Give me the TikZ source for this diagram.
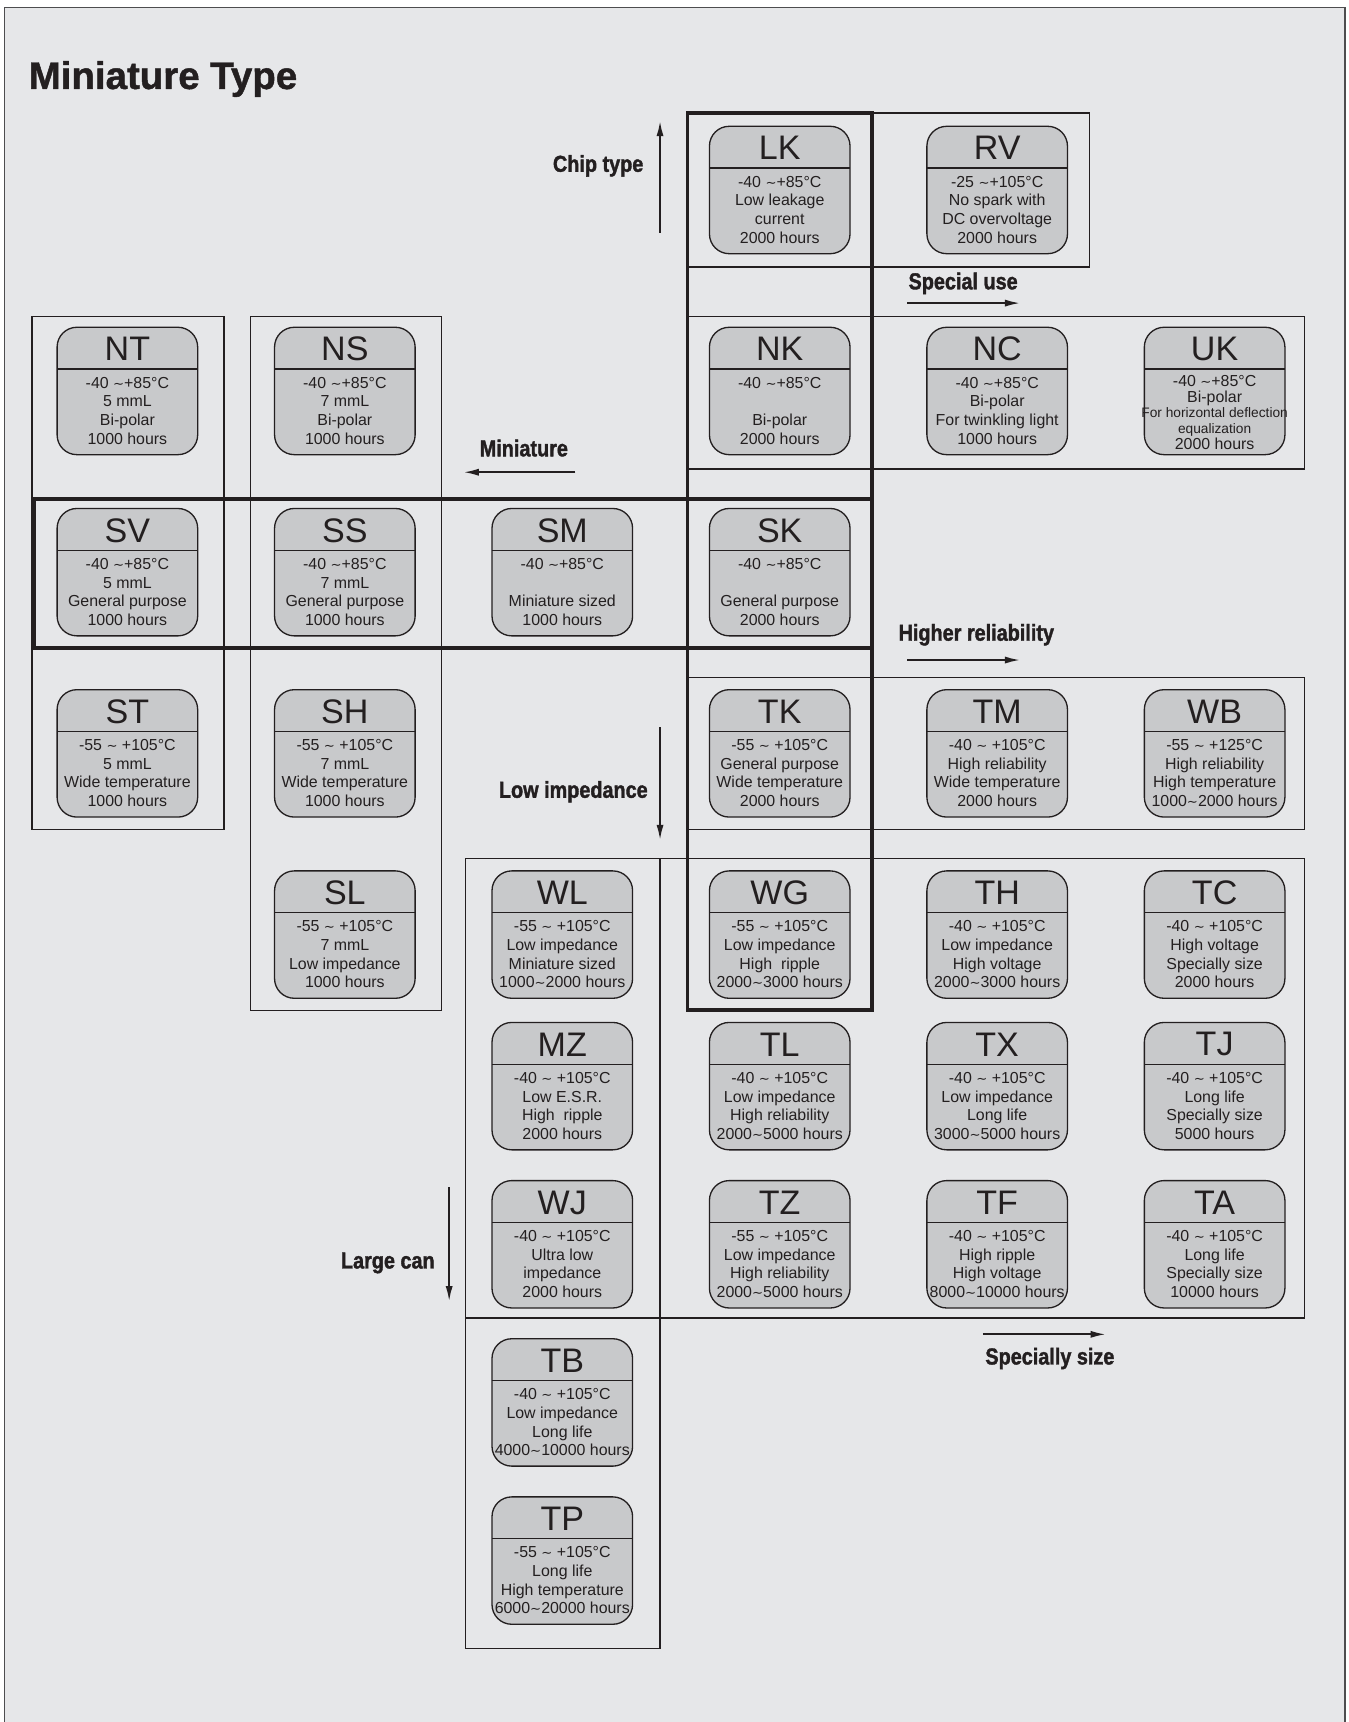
\documentclass[tikz,border=0pt]{standalone}
\usepackage{fontspec}
\setmainfont{Liberation Sans}
\newfontfamily\labelfont[FakeStretch=0.86,FakeBold=1.6]{Liberation Sans}
\newfontfamily\titlefont[FakeBold=1.2]{Liberation Sans}
\newfontfamily\dejavu{DejaVu Sans}
\usetikzlibrary{positioning,arrows.meta}
\definecolor{paper}{HTML}{E6E7E9}
\definecolor{cell}{HTML}{C8C9CB}
\definecolor{ink}{HTML}{231F20}
\definecolor{rim}{HTML}{4D4D4F}
\tikzstyle{seriesbox} = [rectangle, draw=ink, fill=cell, line width=1.2pt, rounded corners=18pt, minimum width=128pt, minimum height=116pt, inner sep=0pt, outer sep=0pt]
\tikzstyle{codetext} = [text=ink, font=\fontsize{31}{33}\selectfont, inner sep=0pt]
\tikzstyle{spectext} = [text=ink, font=\fontsize{14.5}{17}\selectfont, align=center, inner sep=0pt]
\tikzstyle{cellframe} = [draw=ink, line width=1.2pt]
\tikzstyle{groupframe} = [draw=ink, line width=3.5pt]
\tikzstyle{trend} = [text=ink, font=\labelfont\bfseries\fontsize{21}{24}\selectfont, inner sep=0pt]
\tikzstyle{arrow} = [-{Latex[length=14pt,width=6.5pt]}, draw=ink, line width=1.8pt]
\newcommand{\tld}{{\dejavu\fontsize{12}{17}\selectfont ∼}}
\newcommand{\capacitor}[4]% #1 = name, #2 = placement, #3 = code, #4 = specs
{\node (#1) [seriesbox,#2] {};
	\draw [ink,line width=1.2pt] ([yshift=-38pt]#1.north west) -- ([yshift=-38pt]#1.north east);
	\node [codetext] at ([yshift=-20pt]#1.north) {#3};
	\node [spectext] at ([yshift=-76pt]#1.north) {#4};}

\begin{document}
\begin{tikzpicture}[x=1pt,y=-1pt]
		\useasboundingbox (0,0) rectangle (1228,1568);
		\clip (0,0) rectangle (1228,1568);
		\fill [white] (0,0) rectangle (1228,1568);
		\draw [fill=paper, draw=rim, line width=1.4pt] (4,7) rectangle (1224.5,1600);
		
		\node (title) [anchor=base west, text=ink, font=\titlefont\bfseries\fontsize{35}{40}\selectfont, inner sep=0pt] at (26,81) {Miniature Type};
		
		% thin frames
		\draw [cellframe] (626,103) rectangle (992,243);
		\draw [cellframe] (29,288) rectangle (204,755);
		\draw [cellframe] (228,288) rectangle (402,920);
		\draw [cellframe] (626,288) rectangle (1188,427);
		\draw [cellframe] (626,617) rectangle (1188,755);
		\draw [cellframe] (424,782) rectangle (1188,1200);
		\draw [cellframe] (424,782) rectangle (601,1501);
		% thick frames
		\draw [groupframe] (626,103) rectangle (794,920);
		\draw [groupframe] (31,454) rectangle (794,590);
		
		\capacitor{lk}{at={(710,173)}}{LK}{-40 \tld+85°C\\Low leakage\\current\\2000 hours}
		\capacitor{rv}{right=70pt of lk}{RV}{-25 \tld+105°C\\No spark with\\DC overvoltage\\2000 hours}
		
		\capacitor{nk}{below=67pt of lk}{NK}{-40 \tld+85°C\\ \\Bi-polar\\2000 hours}
		\capacitor{nc}{right=70pt of nk}{NC}{-40 \tld+85°C\\Bi-polar\\For twinkling light\\1000 hours}
		\capacitor{uk}{right=70pt of nc}{UK}{-40 \tld+85°C\\[-2.5pt]Bi-polar\\[-2.5pt]{\fontsize{12.5}{14.5}\selectfont For horizontal deflection}\\[-2.5pt]{\fontsize{12.5}{14.5}\selectfont equalization}\\[-2.5pt]2000 hours\\[-20pt]}
		
		\capacitor{sk}{below=49pt of nk}{SK}{-40 \tld+85°C\\ \\General purpose\\2000 hours}
		\capacitor{sm}{left=70pt of sk}{SM}{-40 \tld+85°C\\ \\Miniature sized\\1000 hours}
		\capacitor{ss}{left=70pt of sm}{SS}{-40 \tld+85°C\\7 mmL\\General purpose\\1000 hours}
		\capacitor{sv}{left=70pt of ss}{SV}{-40 \tld+85°C\\5 mmL\\General purpose\\1000 hours}
		\capacitor{ns}{above=49pt of ss}{NS}{-40 \tld+85°C\\7 mmL\\Bi-polar\\1000 hours}
		\capacitor{nt}{above=49pt of sv}{NT}{-40 \tld+85°C\\5 mmL\\Bi-polar\\1000 hours}
		
		\capacitor{st}{below=49pt of sv}{ST}{-55 \tld{} +105°C\\5 mmL\\Wide temperature\\1000 hours}
		\capacitor{sh}{below=49pt of ss}{SH}{-55 \tld{} +105°C\\7 mmL\\Wide temperature\\1000 hours}
		\capacitor{sl}{below=49pt of sh}{SL}{-55 \tld{} +105°C\\7 mmL\\Low impedance\\1000 hours}
		
		\capacitor{tk}{below=49pt of sk}{TK}{-55 \tld{} +105°C\\General purpose\\Wide temperature\\2000 hours}
		\capacitor{tm}{right=70pt of tk}{TM}{-40 \tld{} +105°C\\High reliability\\Wide temperature\\2000 hours}
		\capacitor{wb}{right=70pt of tm}{WB}{-55 \tld{} +125°C\\High reliability\\High temperature\\1000\tld2000 hours}
		
		\capacitor{wg}{below=49pt of tk}{WG}{-55 \tld{} +105°C\\Low impedance\\High\ \ ripple\\2000\tld3000 hours}
		\capacitor{wl}{left=70pt of wg}{WL}{-55 \tld{} +105°C\\Low impedance\\Miniature sized\\1000\tld2000 hours}
		\capacitor{th}{right=70pt of wg}{TH}{-40 \tld{} +105°C\\Low impedance\\High voltage\\2000\tld3000 hours}
		\capacitor{tc}{right=70pt of th}{TC}{-40 \tld{} +105°C\\High voltage\\Specially size\\2000 hours}
		
		\capacitor{tl}{below=22pt of wg}{TL}{-40 \tld{} +105°C\\Low impedance\\High reliability\\2000\tld5000 hours}
		\capacitor{mz}{left=70pt of tl}{MZ}{-40 \tld{} +105°C\\Low E.S.R.\\High\ \ ripple\\2000 hours}
		\capacitor{tx}{right=70pt of tl}{TX}{-40 \tld{} +105°C\\Low impedance\\Long life\\3000\tld5000 hours}
		\capacitor{tj}{right=70pt of tx}{TJ}{-40 \tld{} +105°C\\Long life\\Specially size\\5000 hours}
		
		\capacitor{tz}{below=28pt of tl}{TZ}{-55 \tld{} +105°C\\Low impedance\\High reliability\\2000\tld5000 hours}
		\capacitor{wj}{left=70pt of tz}{WJ}{-40 \tld{} +105°C\\Ultra low\\impedance\\2000 hours}
		\capacitor{tf}{right=70pt of tz}{TF}{-40 \tld{} +105°C\\High ripple\\High voltage\\8000\tld10000 hours}
		\capacitor{ta}{right=70pt of tf}{TA}{-40 \tld{} +105°C\\Long life\\Specially size\\10000 hours}
		
		\capacitor{tb}{below=28pt of wj}{TB}{-40 \tld{} +105°C\\Low impedance\\Long life\\4000\tld10000 hours}
		\capacitor{tp}{below=28pt of tb}{TP}{-55 \tld{} +105°C\\Long life\\High temperature\\6000\tld20000 hours}
		
		% trend labels
		\node (chip-type) [trend,anchor=east] at (586,151) {Chip type};
		\node (special-use) [trend] at (877,258) {Special use};
		\node (miniature) [trend] at (477,408) {Miniature};
		\node (higher-rel) [trend] at (889,578) {Higher reliability};
		\node (low-imp) [trend,anchor=east] at (590,721) {Low impedance};
		\node (large-can) [trend,anchor=east] at (396,1150) {Large can};
		\node (special-size) [trend] at (956,1237) {Specially size};
		
		\coordinate (c1) at (601,212);  \coordinate (c2) at (601,110);
		\coordinate (s1) at (826,276);  \coordinate (s2) at (929,276);
		\coordinate (m1) at (524,430);  \coordinate (m2) at (422,430);
		\coordinate (h1) at (826,601);  \coordinate (h2) at (929,601);
		\coordinate (i1) at (601,662);  \coordinate (i2) at (601,765);
		\coordinate (l1) at (409,1081); \coordinate (l2) at (409,1185);
		\coordinate (z1) at (895,1215); \coordinate (z2) at (1007,1215);
		
		\draw [arrow] (c1) -- (c2);
		\draw [arrow] (s1) -- (s2);
		\draw [arrow] (m1) -- (m2);
		\draw [arrow] (h1) -- (h2);
		\draw [arrow] (i1) -- (i2);
		\draw [arrow] (l1) -- (l2);
		\draw [arrow] (z1) -- (z2);
		
	\end{tikzpicture}
\end{document}
